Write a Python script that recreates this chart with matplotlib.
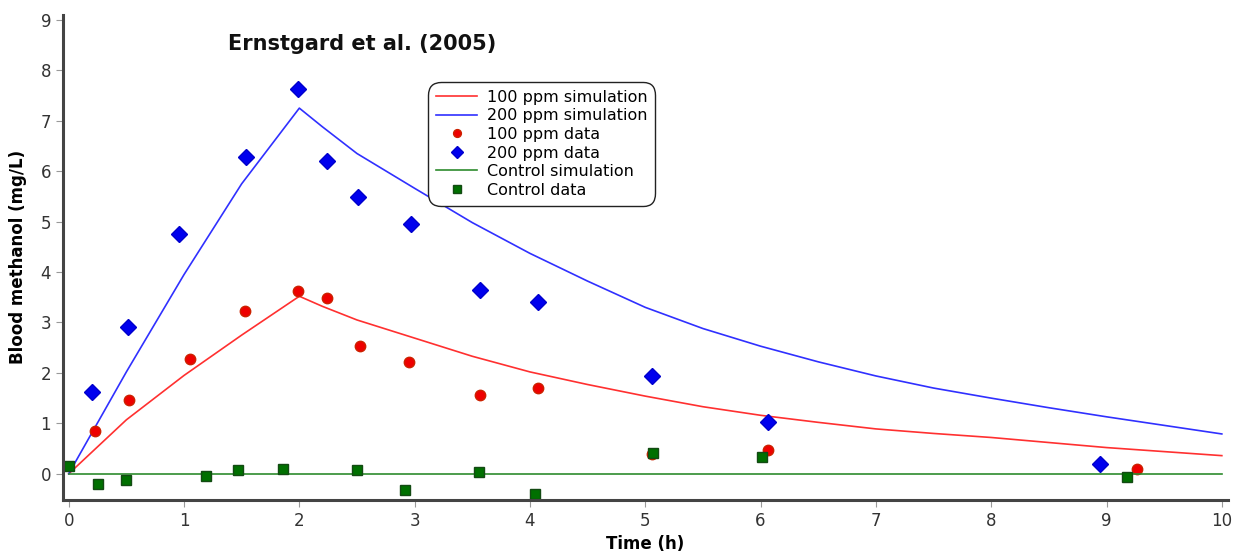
#!/usr/bin/env python3
import matplotlib
matplotlib.use("Agg")
import matplotlib.pyplot as plt

# --- Data ---
sim_t = [0, 0.5, 1.0, 1.5, 2.0, 2.2, 2.5, 3, 3.5, 4, 4.5, 5, 5.5, 6, 6.5, 7, 7.5, 8, 8.5, 9, 9.5, 10]
sim_100 = [0, 1.07, 1.95, 2.75, 3.52, 3.32, 3.05, 2.69, 2.33, 2.02, 1.77, 1.54, 1.33, 1.16, 1.02, 0.89, 0.80, 0.72, 0.62, 0.52, 0.44, 0.36]
sim_200 = [0, 2.02, 3.95, 5.75, 7.25, 6.88, 6.35, 5.66, 4.98, 4.37, 3.82, 3.30, 2.88, 2.53, 2.22, 1.94, 1.70, 1.50, 1.31, 1.13, 0.96, 0.79]

t_100 = [0.23, 0.52, 1.05, 1.53, 1.99, 2.24, 2.53, 2.95, 3.57, 4.07, 5.06, 6.06, 9.26]
c_100 = [0.84, 1.47, 2.28, 3.23, 3.63, 3.49, 2.54, 2.22, 1.57, 1.70, 0.40, 0.47, 0.10]

t_200 = [0.20, 0.51, 0.96, 1.54, 1.99, 2.24, 2.51, 2.97, 3.57, 4.07, 5.06, 6.06, 8.94]
c_200 = [1.63, 2.92, 4.76, 6.28, 7.63, 6.20, 5.48, 4.96, 3.64, 3.41, 1.94, 1.02, 0.19]

t_ctrl = [0.0, 0.25, 0.50, 1.19, 1.47, 1.86, 2.50, 2.92, 3.56, 4.04, 5.07, 6.01, 9.18]
c_ctrl = [0.16, -0.21, -0.12, -0.04, 0.08, 0.10, 0.08, -0.33, 0.04, -0.41, 0.42, 0.34, -0.07]

# --- Plot ---
fig = plt.figure(figsize=(12.39, 5.59), dpi=100)
ax = fig.add_axes([0.0508, 0.1055, 0.940, 0.868])

ax.plot(sim_t, sim_100, color="#ff3030", lw=1.2, label="100 ppm simulation")
ax.plot(sim_t, sim_200, color="#3030ff", lw=1.2, label="200 ppm simulation")
ax.plot(t_100, c_100, "o", color="#ee0000", mec="#cc2200", ms=7.5, label="100 ppm data")
ax.plot(t_200, c_200, "D", color="#0000ee", mec="#0000cc", ms=8, label="200 ppm data")
ax.plot([0, 10], [0, 0], color="#2e8b2e", lw=1.2, label="Control simulation")
ax.plot(t_ctrl, c_ctrl, "s", color="#007000", mec="#134a13", ms=7.5, label="Control data")

ax.set_xlim(-0.05, 10.05)
ax.set_ylim(-0.52, 9.1)
ax.set_xticks(range(0, 11))
ax.set_yticks(range(0, 10))

for side in ("top", "right"):
    ax.spines[side].set_visible(False)
for side in ("left", "bottom"):
    ax.spines[side].set_color("#444444")
    ax.spines[side].set_linewidth(2.2)
ax.tick_params(direction="out", length=5, color="#999999", labelsize=12,
               labelcolor="#333333")

ax.set_xlabel("Time (h)", fontsize=12, fontweight="bold")
ax.set_ylabel("Blood methanol (mg/L)", fontsize=12, fontweight="bold", labelpad=10)
ax.xaxis.set_label_coords(0.50, -0.073)

ax.text(0.142, 0.928, "Ernstgard et al. (2005)", transform=ax.transAxes,
        fontsize=15, fontweight="bold", color="#111111")

leg = ax.legend(loc="upper left", bbox_to_anchor=(0.316, 0.855), fontsize=11.5,
                frameon=True, fancybox=True, handlelength=2.6, handletextpad=0.6,
                borderpad=0.3, labelspacing=0.22, numpoints=1, borderaxespad=0,
                markerscale=0.75)
leg.get_frame().set_edgecolor("#222222")
leg.get_frame().set_linewidth(1.0)
leg.get_frame().set_alpha(1)
leg.get_frame().set_boxstyle("round,pad=0.2,rounding_size=0.8")

fig.savefig("out.png", dpi=100)
